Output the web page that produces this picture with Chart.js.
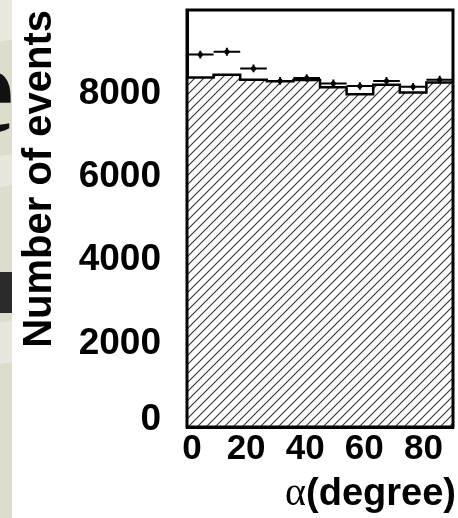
<!DOCTYPE html>
<html>
<head>
<meta charset="utf-8">
<script src="https://cdn.jsdelivr.net/npm/chart.js@4.4.1/dist/chart.umd.min.js"></script>
<style>
  html, body { margin: 0; padding: 0; }
  body { width: 458px; height: 518px; position: relative; overflow: hidden; background: #fff; }
  #strip {
    position: absolute; left: 0; top: 0; width: 12px; height: 518px;
    background:
      linear-gradient(170deg, rgba(255,255,255,0.35) 0 8%, rgba(0,0,0,0) 8% 30%, rgba(255,255,255,0.3) 30% 36%, rgba(0,0,0,0) 36% 62%, rgba(255,255,255,0.3) 62% 70%, rgba(0,0,0,0) 70%),
      #dedccd;
  }
  #cut { position: absolute; left: 0; top: 0; width: 14px; height: 518px; overflow: hidden; }
  #cut span {
    position: absolute; right: 0; top: 23px;
    font: bold 130px "Liberation Serif", "DejaVu Serif", serif; color: #111; line-height: 1;
  }
  #block { position: absolute; left: 0; top: 272px; width: 12px; height: 41px; background: #2b2b2b; }
  #wrap { position: absolute; left: 12px; top: 0; width: 446px; height: 518px; }
</style>
</head>
<body>
<div id="strip"></div>
<div id="cut"><span>e</span></div>
<div id="block"></div>
<div id="wrap"><canvas id="chart" width="446" height="518"></canvas></div>
<script>
// bins of 9 degrees
const binLow = [0, 9, 18, 27, 36, 45, 54, 63, 72, 81];
const binWidth = 9;
const mcCounts = [8380, 8450, 8330, 8290, 8320, 8150, 7980, 8210, 8020, 8260];
const dataCounts = [8930, 9000, 8600, 8300, 8370, 8240, 8180, 8300, 8160, 8330];
const dataErrors = [95, 95, 93, 91, 92, 91, 90, 91, 90, 91];
const xTicks = [0, 20, 40, 60, 80];
const yTicks = [0, 2000, 4000, 6000, 8000];

const font = '"Liberation Sans", Arial, sans-serif';

function hatch() {
  const c = document.createElement("canvas");
  c.width = 9; c.height = 9;
  const g = c.getContext("2d");
  g.fillStyle = "#fff";
  g.fillRect(0, 0, 9, 9);
  g.strokeStyle = "#333";
  g.lineWidth = 1.1;
  g.beginPath();
  g.moveTo(-1, 10); g.lineTo(10, -1);
  g.moveTo(-1, 1); g.lineTo(1, -1);
  g.moveTo(8, 10); g.lineTo(10, 8);
  g.stroke();
  return g.createPattern(c, "repeat");
}

const centers = binLow.map((b) => b + binWidth / 2);
const stepPts = binLow.map((b, i) => ({ x: b, y: mcCounts[i] }));
stepPts.push({ x: binLow[binLow.length - 1] + binWidth, y: mcCounts[mcCounts.length - 1] });

const framePlugin = {
  id: "frame",
  afterDatasetsDraw(chart) {
    const { ctx, chartArea: a, scales } = chart;
    const x = scales.x, y = scales.y;
    ctx.save();
    // error bars
    ctx.strokeStyle = "#000";
    ctx.lineWidth = 2;
    dataCounts.forEach((v, i) => {
      const py = y.getPixelForValue(v);
      const x0 = x.getPixelForValue(binLow[i]);
      const x1 = x.getPixelForValue(binLow[i] + binWidth);
      const xc = x.getPixelForValue(centers[i]);
      ctx.beginPath();
      ctx.moveTo(x0, py); ctx.lineTo(x1, py);
      ctx.moveTo(xc, y.getPixelForValue(v - dataErrors[i]));
      ctx.lineTo(xc, y.getPixelForValue(v + dataErrors[i]));
      ctx.stroke();
    });
    ctx.lineWidth = 3;
    ctx.strokeRect(a.left, a.top, a.right - a.left, a.bottom - a.top);
    // x title: serif alpha + bold sans rest
    ctx.fillStyle = "#000";
    ctx.textBaseline = "alphabetic";
    ctx.textAlign = "left";
    const rest = "(degree)";
    ctx.font = "bold 38px " + font;
    const wr = ctx.measureText(rest).width;
    ctx.font = '40px "Liberation Serif", serif';
    const wa = ctx.measureText("α").width;
    const xe = a.right + 3;
    const base = 505;
    ctx.fillText("α", xe - wr - wa, base);
    ctx.font = "bold 38px " + font;
    ctx.fillText(rest, xe - wr, base);
    ctx.restore();
  }
};

new Chart(document.getElementById("chart"), {
  type: "bar",
  data: {
    datasets: [
      {
        type: "bar",
        data: centers.map((c, i) => ({ x: c, y: mcCounts[i] })),
        backgroundColor: hatch(),
        borderWidth: 0,
        barPercentage: 1,
        categoryPercentage: 1,
        order: 3
      },
      {
        type: "line",
        data: stepPts,
        stepped: true,
        borderColor: "#000",
        borderWidth: 2.5,
        pointRadius: 0,
        fill: false,
        order: 2
      },
      {
        type: "scatter",
        data: centers.map((c, i) => ({ x: c, y: dataCounts[i] })),
        pointRadius: 2.5,
        pointBackgroundColor: "#000",
        pointBorderWidth: 0,
        order: 1
      }
    ]
  },
  options: {
    responsive: false,
    animation: false,
    layout: { padding: { left: 0, right: 5, top: 10, bottom: 0 } },
    plugins: { legend: { display: false }, tooltip: { enabled: false } },
    scales: {
      x: {
        type: "linear",
        offset: false,
        min: 0,
        max: 90,
        afterBuildTicks: (s) => { s.ticks = xTicks.map((v) => ({ value: v })); },
        afterFit: (s) => { s.height = 91; s.paddingLeft = 0; s.paddingRight = 0; },
        grid: { display: false },
        border: { display: true, width: 3, color: "#000" },
        ticks: {
          padding: -3,
          color: "#000",
          font: { family: font, size: 35, weight: "bold", lineHeight: 1.0 },
          maxRotation: 0,
          callback: (v) => (v === 0 ? " 0" : String(v))
        },
        title: { display: false }
      },
      y: {
        min: 0,
        max: 10000,
        afterBuildTicks: (s) => { s.ticks = yTicks.map((v) => ({ value: v })); },
        afterFit: (s) => { s.width = 175; s.paddingTop = 0; s.paddingBottom = 0; },
        grid: { display: false },
        border: { display: true, width: 3, color: "#000" },
        ticks: {
          padding: 18,
          color: "#000",
          font: { family: font, size: 37, weight: "bold", lineHeight: 0.4 },
          callback: (v) => (v === 0 ? ["0", ""] : String(v))
        },
        title: {
          display: true,
          text: "Number of events",
          align: "end",
          color: "#000",
          font: { family: font, size: 40, weight: "bold" },
          padding: { top: 4, bottom: 0 }
        }
      }
    }
  },
  plugins: [framePlugin]
});
</script>
</body>
</html>
